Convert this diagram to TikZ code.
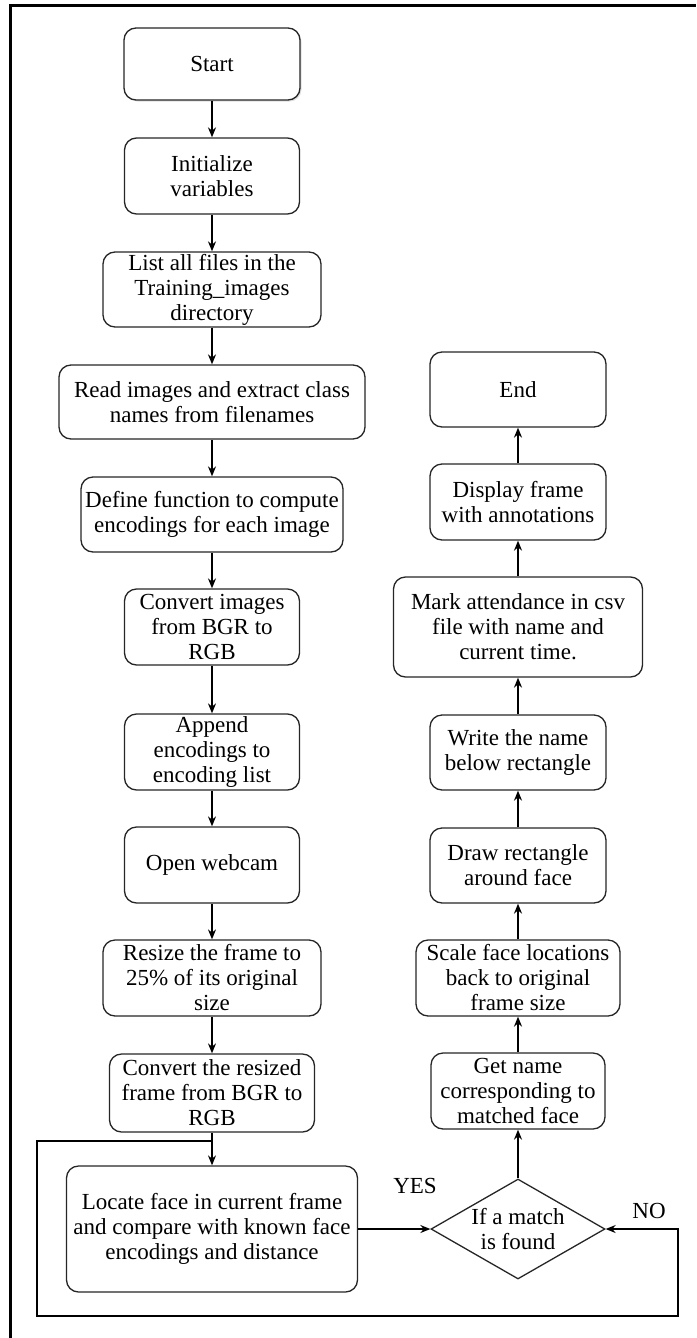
\documentclass[tikz,border=0pt]{standalone}
\usepackage{fontspec}
\setmainfont{Liberation Serif}
\usetikzlibrary{arrows.meta,shapes.geometric,shadows}

\begin{document}
\begin{tikzpicture}[x=1pt, y=-1pt,
		font=\fontsize{23}{25}\selectfont,
		box/.style={draw=black!85, line width=1.3pt, rounded corners=12pt, align=center, inner sep=0pt, fill=white},
		decision/.style={draw=black!85, line width=1.3pt, shape=diamond, aspect=1.74, inner sep=0pt, align=center, minimum width=174pt, minimum height=100pt},
		line/.style={line width=1.3pt, -{Stealth[length=10pt,width=8pt]}}]
		
		\useasboundingbox (0,0) rectangle (696,1338);
		
		% --- 1. 外框 ---
		\draw[line width=3pt] (10,1338) -- (10,6) -- (696,6);
		
		% --- 2. 左列 ---
		\node[box, minimum width=176pt, minimum height=72pt, drop shadow={opacity=0.25, shadow xshift=1.5pt, shadow yshift=-1.5pt}] (start) at (212,64) {Start};
		\node[box, minimum width=175pt, minimum height=76pt] (init) at (212,176) {Initialize\\variables};
		\node[box, minimum width=218pt, minimum height=75pt] (list) at (212,289.5) {List all files in the\\Training\_images\\directory};
		\node[box, minimum width=306pt, minimum height=74pt] (read) at (212,402) {Read images and extract class\\names from filenames};
		\node[box, minimum width=262pt, minimum height=75pt] (define) at (212,514.5) {Define function to compute\\encodings for each image};
		\node[box, minimum width=175pt, minimum height=76pt] (convert) at (212,627) {Convert images\\from BGR to\\RGB};
		\node[box, minimum width=175pt, minimum height=76pt] (append) at (212,752) {Append\\encodings to\\encoding list};
		\node[box, minimum width=175pt, minimum height=76pt] (webcam) at (212,865) {Open webcam};
		\node[box, minimum width=218pt, minimum height=76pt] (resize) at (212,978) {Resize the frame to\\25\% of its original\\size};
		\node[box, minimum width=205pt, minimum height=78pt] (resized) at (212,1093) {Convert the resized\\frame from BGR to\\RGB};
		\node[box, minimum width=291pt, minimum height=126pt] (locate) at (212,1229) {Locate face in current frame\\and compare with known face\\encodings and distance};
		
		% --- 3. 右列 ---
		\node[box, minimum width=176pt, minimum height=75pt] (end) at (518,389.5) {End};
		\node[box, minimum width=176pt, minimum height=76pt] (display) at (518,502) {Display frame\\with annotations};
		\node[box, minimum width=249pt, minimum height=100pt] (mark) at (518,627) {Mark attendance in csv\\file with name and\\current time.};
		\node[box, minimum width=176pt, minimum height=75pt] (write) at (518,752.5) {Write the name\\below rectangle};
		\node[box, minimum width=176pt, minimum height=75pt] (rect) at (518,865.5) {Draw rectangle\\around face};
		\node[box, minimum width=204pt, minimum height=76pt] (scale) at (518,978) {Scale face locations\\back to original\\frame size};
		\node[box, minimum width=174pt, minimum height=76pt] (getname) at (518,1091) {Get name\\corresponding to\\matched face};
		\node[decision] (match) at (518,1229) {If a match\\is found};
		
		% --- 4. 箭头 ---
		\foreach \a/\b in {start/init, init/list, list/read, read/define, define/convert,
			convert/append, append/webcam, webcam/resize, resize/resized, resized/locate,
			locate/match, match/getname, getname/scale, scale/rect, rect/write,
			write/mark, mark/display, display/end}
		\draw[line] (\a) -- (\b);
		
		% --- 5. NO 回路 ---
		\coordinate (join) at (212,1141);
		\coordinate (loopTL) at (37,1141);
		\coordinate (loopBL) at (37,1316);
		\coordinate (loopBR) at (678,1316);
		\coordinate (loopTR) at (678,1229);
		\draw[line] (join) -- (loopTL) -- (loopBL) -- (loopBR) -- (loopTR) -- (match.east);
		
		% 标注 YES / NO
		\node (yes) at (415,1186) {YES};
		\node (no) at (649,1211) {NO};
		
	\end{tikzpicture}
\end{document}
